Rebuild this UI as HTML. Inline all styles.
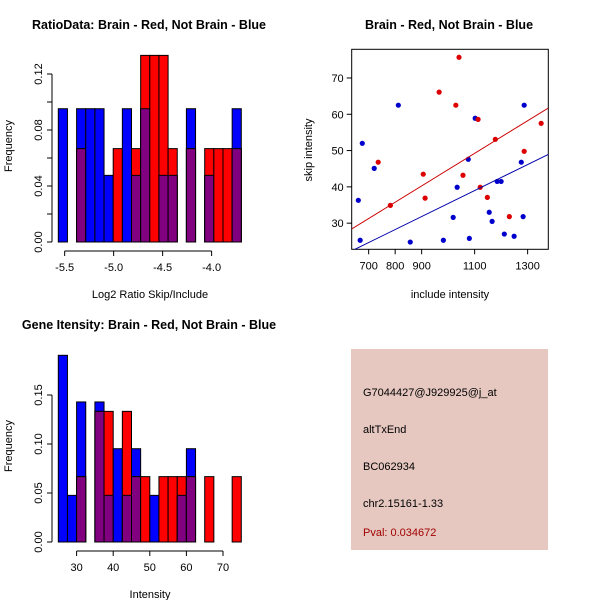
<!DOCTYPE html>
<html><head><meta charset="utf-8"><style>
body{margin:0;background:#fff}
svg{font-family:"Liberation Sans",sans-serif}
</style></head><body>
<svg id="c" width="600" height="600" xmlns="http://www.w3.org/2000/svg">
<rect width="600" height="600" fill="#fff"/>
<text x="149" y="29" text-anchor="middle" font-size="12.5" font-weight="bold">RatioData: Brain - Red, Not Brain - Blue</text>
<text x="449" y="29" text-anchor="middle" font-size="12.5" font-weight="bold">Brain - Red, Not Brain - Blue</text>
<text x="149" y="329" text-anchor="middle" font-size="12.5" font-weight="bold">Gene Itensity: Brain - Red, Not Brain - Blue</text>
<text x="150" y="298" text-anchor="middle" font-size="11">Log2 Ratio Skip/Include</text>
<text x="150" y="598" text-anchor="middle" font-size="11">Intensity</text>
<text x="450" y="298" text-anchor="middle" font-size="11">include intensity</text>
<text transform="translate(12,146) rotate(-90)" text-anchor="middle" font-size="11">Frequency</text>
<text transform="translate(12,446) rotate(-90)" text-anchor="middle" font-size="11">Frequency</text>
<text transform="translate(312,150) rotate(-90)" text-anchor="middle" font-size="11">skip intensity</text>
<g id="h1"></g>
<g id="h2"></g>
<g id="sc"></g>
<g>
<rect x="351" y="349" width="197" height="201" fill="#e6c8c0"/>
<text x="363" y="396" font-size="11">G7044427@J929925@j_at</text>
<text x="363" y="433" font-size="11">altTxEnd</text>
<text x="363" y="470" font-size="11">BC062934</text>
<text x="363" y="507" font-size="11">chr2.15161-1.33</text>
<text x="363" y="536" font-size="11" fill="#a00000">Pval: 0.034672</text>
</g>
</svg>
<script>
// Ratio histogram data
const h1Start = -5.565, h1Width = 0.0934;
const h1Blue = [0.0952,0,0.0952,0.0952,0.0952,0.0476,0,0.0952,0.0476,0.0952,0,0.0476,0.0476,0,0.0952,0,0.0476,0,0,0.0952];
const h1Red  = [0,0,0.0667,0,0,0,0.0667,0,0.0667,0.1333,0.1333,0.1333,0.0667,0,0.0667,0,0.0667,0.0667,0.0667,0.0667];
const h1XTicks = [-5.5,-5.0,-4.5,-4.0];
const h1XLabels = ["-5.5","-5.0","-4.5","-4.0"];
const h1YTicks = [0,0.02,0.04,0.06,0.08,0.10,0.12];
const h1YLabels = ["0.00","","0.04","","0.08","","0.12"];
// Intensity histogram data
const h2Start = 25, h2Width = 2.5;
const h2Blue = [0.1905,0.0476,0.1429,0,0.1429,0.0476,0.0952,0.0476,0.0952,0,0.0476,0,0,0.0476,0.0952,0,0,0,0,0];
const h2Red  = [0,0,0.0667,0,0.1333,0.1333,0,0.1333,0.0667,0.0667,0,0.0667,0.0667,0.0667,0.0667,0,0.0667,0,0,0.0667];
const h2XTicks = [30,40,50,60,70];
const h2YTicks = [0,0.05,0.10,0.15];
const h2YLabels = ["0.00","0.05","0.10","0.15"];
// Scatter data
const blueX = [661,668,676,721,812,857,982,1019,1034,1076,1080,1102,1155,1166,1185,1200,1212,1249,1276,1283,1287];
const blueY = [36.3,25.3,52.0,45.1,62.5,24.8,25.3,31.6,39.9,47.6,25.8,58.9,33.0,30.5,41.5,41.5,27.0,26.4,46.8,31.8,62.5];
const redX = [736,782,906,913,966,1029,1041,1056,1113,1121,1148,1178,1231,1287,1351];
const redY = [46.8,34.9,43.5,36.9,66.1,62.5,75.7,43.2,58.6,39.9,37.1,53.1,31.8,49.8,57.5];
const fitSlope = [0.0449,0.0358];
const fitIntercept = [-0.15,-0.4];
const scXTicks = [700,800,900,1100,1300];
const scYTicks = [30,40,50,60,70];

const NS="http://www.w3.org/2000/svg";
function mk(parent,tag,attrs){const e=document.createElementNS(NS,tag);for(const k in attrs)e.setAttribute(k,attrs[k]);parent.appendChild(e);return e;}

function hist(g,start,width,blue,red,xs,ys,xt,xl,yt,yl,y0,pxU,name){
  const left=58.3, px=183/(width*blue.length);
  const sx=v=>left+(v-start)*px, sy=v=>y0-v*pxU;
  for(let i=0;i<blue.length;i++){
    const a=start+i*width,b=a+width,bv=blue[i],rv=red[i];
    const draw=(v,col,nm)=>{if(v<=0)return;const r=mk(g,'rect',{x:sx(a),y:sy(v),width:sx(b)-sx(a),height:v*pxU,fill:col,stroke:'#000','stroke-width':1});
      
      };
    draw(bv,'#0000ff','blue');draw(rv,'#ff0000','red');draw(Math.min(bv,rv),'#800080','overlap');
  }
  const ax=y0+9;
  const xa=mk(g,'line',{x1:sx(xt[0]),x2:sx(xt[xt.length-1]),y1:ax,y2:ax,stroke:'#000'});
  
  
  xt.forEach((t,i)=>{mk(g,'line',{x1:sx(t),x2:sx(t),y1:ax,y2:ax+5,stroke:'#000'});
    const tx=mk(g,'text',{x:sx(t),y:ax+20,'text-anchor':'middle','font-size':11});tx.textContent=xl[i];
    
    });
  const ya=mk(g,'line',{x1:52,x2:52,y1:sy(yt[0]),y2:sy(yt[yt.length-1]),stroke:'#000'});
  
  
  yt.forEach((t,i)=>{mk(g,'line',{x1:47,x2:52,y1:sy(t),y2:sy(t),stroke:'#000'});
    if(yl[i]){const tx=mk(g,'text',{transform:`translate(42,${sy(t)}) rotate(-90)`,'text-anchor':'middle','font-size':11});tx.textContent=yl[i];
    
    }});
}
hist(document.getElementById('h1'),h1Start,h1Width,h1Blue,h1Red,0,0,h1XTicks,h1XLabels,h1YTicks,h1YLabels,242,1400,'ratio');
hist(document.getElementById('h2'),h2Start,h2Width,h2Blue,h2Red,0,0,h2XTicks,h2XTicks.map(String),h2YTicks,h2YLabels,542,980,'intensity');

(function(){
  const g=document.getElementById('sc');
  const X0=636,X1=1378,Y0=22.8,Y1=77.9,L=351.7,R=548.3,T=49.3,B=249.3;
  const sx=v=>L+(v-X0)/(X1-X0)*(R-L), sy=v=>B-(v-Y0)/(Y1-Y0)*(B-T);
  const cp=mk(g,'clipPath',{id:'scclip'});mk(cp,'rect',{x:L,y:T,width:R-L,height:B-T});
  const box=mk(g,'rect',{x:L,y:T,width:R-L,height:B-T,fill:'none',stroke:'#000'});
  
  
  blueX.forEach((x,i)=>{const c=mk(g,'circle',{cx:sx(x),cy:sy(blueY[i]),r:2.6,fill:'#0000cc'});
    
    });
  redX.forEach((x,i)=>{const c=mk(g,'circle',{cx:sx(x),cy:sy(redY[i]),r:2.6,fill:'#dd0000'});
    
    });
  const cols=['#cc0000','#0000aa'],nm=['brain-fit-line','not-brain-fit-line'];
  fitSlope.forEach((s,i)=>{const l=mk(g,'line',{x1:sx(X0),y1:sy(fitIntercept[i]+s*X0),x2:sx(X1),y2:sy(fitIntercept[i]+s*X1),stroke:cols[i],'clip-path':'url(#scclip)'});
    
    });
  scXTicks.forEach(t=>{mk(g,'line',{x1:sx(t),x2:sx(t),y1:B,y2:B+5,stroke:'#000'});
    const tx=mk(g,'text',{x:sx(t),y:B+20,'text-anchor':'middle','font-size':11});tx.textContent=t;
    
    });
  scYTicks.forEach(t=>{mk(g,'line',{x1:L-5,x2:L,y1:sy(t),y2:sy(t),stroke:'#000'});
    const tx=mk(g,'text',{x:L-8,y:sy(t)+4,'text-anchor':'end','font-size':11});tx.textContent=t;
    
    });
})();
</script>
</body></html>
